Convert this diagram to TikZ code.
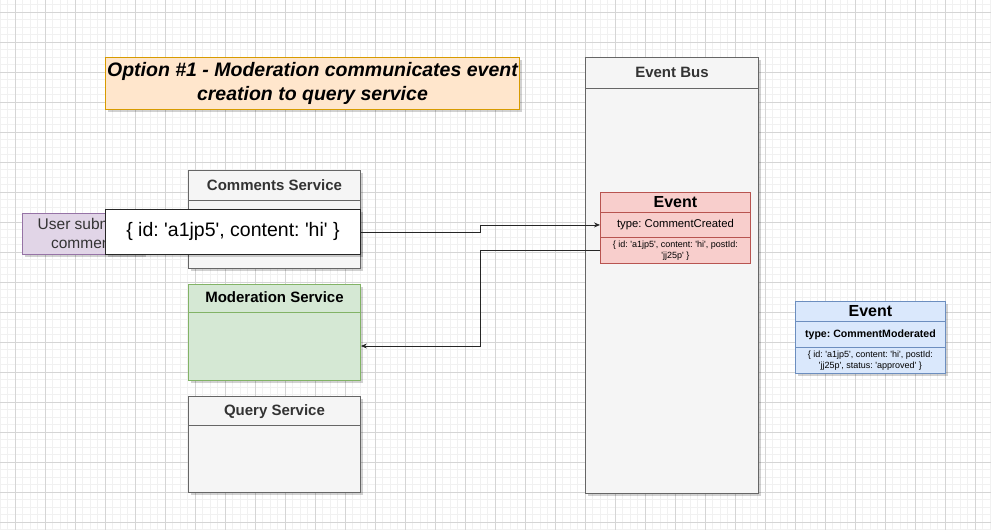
\documentclass[tikz,border=0pt]{standalone}
\usepackage{fontspec}
\setmainfont{Liberation Sans}[Ligatures=TeXOff]
\usetikzlibrary{arrows.meta,shadows,calc}
\definecolor{gridmin}{HTML}{F1F1F1}
\definecolor{gridmaj}{HTML}{D5D5D5}
\definecolor{ttlfill}{HTML}{FFE6CC}
\definecolor{ttldraw}{HTML}{D79B00}
\definecolor{grayfill}{HTML}{F5F5F5}
\definecolor{graydraw}{HTML}{666666}
\definecolor{graytext}{HTML}{333333}
\definecolor{greenfill}{HTML}{D5E8D4}
\definecolor{greendraw}{HTML}{82B366}
\definecolor{redfill}{HTML}{F8CECC}
\definecolor{reddraw}{HTML}{B85450}
\definecolor{bluefill}{HTML}{DAE8FC}
\definecolor{bluedraw}{HTML}{6C8EBF}
\definecolor{purpfill}{HTML}{E1D5E7}
\definecolor{purpdraw}{HTML}{9673A6}
\tikzset{
  shd/.style={drop shadow={shadow xshift=2.5pt,shadow yshift=-2.5pt,fill=black,opacity=0.18}},
  boxnode/.style={draw, anchor=north west, inner sep=0pt, line width=0.9pt},
  svc/.style={boxnode, shd, minimum width=172pt},
  hdrtext/.style={font=\bfseries\fontsize{15}{18}\selectfont, inner sep=0pt},
  rowbox/.style={boxnode, minimum width=150pt},
  evttitle/.style={font=\bfseries\fontsize{16}{19}\selectfont, inner sep=0pt},
  arr/.style={draw=black!85, line width=0.8pt, -{Stealth[length=6pt,width=5pt]}},
}
\frenchspacing
\begin{document}
\begin{tikzpicture}[x=1pt,y=-1pt]
\useasboundingbox (0,0) rectangle (991,530);
\fill[white] (0,0) rectangle (991,530);
% grid
\foreach \k in {0,...,132} \draw[gridmin, line width=0.7pt] ({\k*7.5},0) -- ({\k*7.5},530);
\foreach \k in {0,...,70} \draw[gridmin, line width=0.7pt] (0,{4.8+\k*7.5}) -- (991,{4.8+\k*7.5});
\foreach \k in {0,...,32} \draw[gridmaj, line width=0.9pt] ({15+\k*30},0) -- ({15+\k*30},530);
\foreach \k in {0,...,17} \draw[gridmaj, line width=0.9pt] (0,{12.3+\k*30}) -- (991,{12.3+\k*30});

% title
\node[boxnode, shd, fill=ttlfill, draw=ttldraw, minimum width=414pt, minimum height=52pt] (title) at (105,57) {};
\node[font=\bfseries\itshape\fontsize{19.5}{24}\selectfont, align=center, inner sep=0pt] (titleT) at ($(title.center)+(0,0.5)$) {Option \#1 - Moderation communicates event\\creation to query service};

% event bus
\node[boxnode, shd, fill=grayfill, draw=graydraw, minimum width=173pt, minimum height=436pt] (bus) at (585,57) {};
\draw[graydraw, line width=0.9pt] ($(bus.north west)+(0,31)$) -- ($(bus.north east)+(0,31)$);
\node[hdrtext, text=graytext] (busT) at ($(bus.north)+(0,15.5)$) {Event Bus};

% comments service
\node[svc, fill=grayfill, draw=graydraw, minimum height=98pt] (cs) at (188,170) {};
\draw[graydraw, line width=0.9pt] ($(cs.north west)+(0,30)$) -- ($(cs.north east)+(0,30)$);
\node[hdrtext, text=graytext] (csT) at ($(cs.north)+(0,15)$) {Comments Service};

% moderation service
\node[svc, fill=greenfill, draw=greendraw, minimum height=96pt] (mod) at (188,284) {};
\draw[greendraw, line width=0.9pt] ($(mod.north west)+(0,28)$) -- ($(mod.north east)+(0,28)$);
\node[hdrtext, text=black] (modT) at ($(mod.north)+(0,13.5)$) {Moderation Service};
\coordinate (modIn) at ($(mod.north east)+(0,62)$);

% query service
\node[svc, fill=grayfill, draw=graydraw, minimum height=96pt] (qs) at (188,396) {};
\draw[graydraw, line width=0.9pt] ($(qs.north west)+(0,29)$) -- ($(qs.north east)+(0,29)$);
\node[hdrtext, text=graytext] (qsT) at ($(qs.north)+(0,15.5)$) {Query Service};

% user submits comment
\node[boxnode, shd, fill=purpfill, draw=purpdraw, minimum width=121pt, minimum height=41pt] (user) at (22,213) {};
\node[font=\fontsize{15.5}{19}\selectfont, text=graytext, align=center, inner sep=0pt] (userT) at (user.center) {User submits\\comment};

% popup
\node[boxnode, shd, fill=white, draw=black!85, minimum width=255pt, minimum height=45pt, font=\fontsize{19.5}{23}\selectfont] (popup) at (105,209) {\{ id: 'a1jp5', content: 'hi' \}};

% event A
\node[rowbox, fill=redfill, draw=reddraw, minimum height=20pt] (eaH) at (600,192) {};
\node[evttitle] at (eaH.center) {Event};
\node[rowbox, fill=redfill, draw=reddraw, minimum height=25pt, font=\fontsize{11.3}{13}\selectfont] (eaType) at (600,212) {type: CommentCreated};
\node[rowbox, fill=redfill, draw=reddraw, minimum height=26pt, font=\fontsize{9}{11}\selectfont, align=center] (eaBody) at (600,237) {\{ id: 'a1jp5', content: 'hi', postId:\\'jj25p' \}};

% event B
\node[rowbox, shd, fill=bluefill, draw=bluedraw, minimum height=72pt] (ebAll) at (795,301) {};
\node[rowbox, fill=bluefill, draw=bluedraw, minimum height=20pt] (ebH) at (795,301) {};
\node[evttitle] at (ebH.center) {Event};
\node[rowbox, fill=bluefill, draw=bluedraw, minimum height=26pt, font=\bfseries\fontsize{10.6}{13}\selectfont] (ebType) at (795,321) {type: CommentModerated};
\node[rowbox, fill=bluefill, draw=bluedraw, minimum height=26pt, font=\fontsize{9}{11}\selectfont, align=center] (ebBody) at (795,347) {\{ id: 'a1jp5', content: 'hi', postId:\\'jj25p', status: 'approved' \}};

% connectors
\coordinate (j1) at (480,0);
\draw[arr] (popup.east) -- (popup.east -| j1) -- (j1 |- eaType.west) -- (eaType.west);
\draw[arr] (eaBody.west) -- (eaBody.west -| j1) -- (j1 |- modIn) -- (modIn);
\end{tikzpicture}
\end{document}
